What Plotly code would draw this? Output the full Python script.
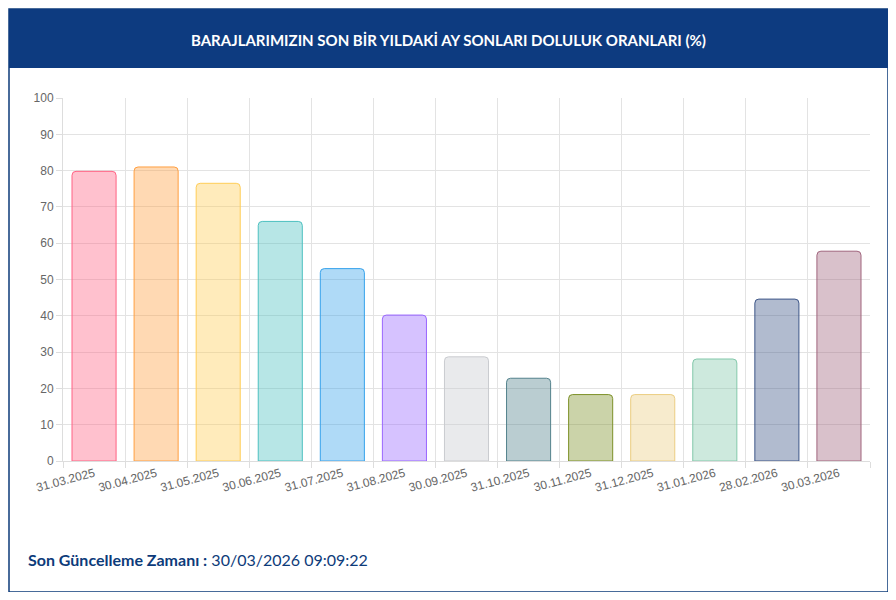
import plotly.graph_objects as go

dates = ["31.03.2025","30.04.2025","31.05.2025","30.06.2025","31.07.2025","31.08.2025","30.09.2025",
         "31.10.2025","30.11.2025","31.12.2025","31.01.2026","28.02.2026","30.03.2026"]
values = [79.8, 81.0, 76.5, 66.0, 53.0, 40.2, 28.7, 22.8, 18.3, 18.3, 28.1, 44.6, 57.8]
rgb = [(255,99,132),(255,159,64),(255,205,86),(75,192,192),(54,162,235),(153,102,255),(201,203,207),
       (83,130,140),(125,145,40),(235,205,130),(130,200,170),(60,85,135),(160,100,125)]

fill = [f"rgba({r},{g},{b},0.4)" for r,g,b in rgb]
line = [f"rgb({r},{g},{b})" for r,g,b in rgb]

fig = go.Figure(go.Bar(x=dates, y=values, width=0.71,
                       marker=dict(color=fill, line=dict(color=line, width=1), cornerradius=4)))

# page body has an 8px margin; figure is sized to fit, coordinates given in window pixels
OFF = 8
W, H = 880, 584
def px(x): return (x - OFF) / W
def py(y): return 1 - (y - OFF) / H

fig.update_layout(
    width=W, height=H, margin=dict(l=0, r=0, t=0, b=0, autoexpand=False),
    paper_bgcolor="white", plot_bgcolor="white", showlegend=False,
    font=dict(family="Liberation Sans, Arial", color="#666", size=12),
    xaxis=dict(domain=[px(63), px(870)], type="category", tickson="boundaries", automargin=False,
               showgrid=True, gridcolor="#e3e3e3", ticks="outside", ticklen=6, tickcolor="#ddd",
               tickangle=-15, showline=True, linecolor="#ddd", tickfont=dict(size=12, color="#666")),
    yaxis=dict(domain=[py(461), py(98)], range=[0, 100], dtick=10, showgrid=True, automargin=False,
               gridcolor="#e3e3e3", ticks="outside", ticklen=6, tickcolor="#ddd",
               showline=True, linecolor="#ddd", zeroline=False, tickfont=dict(size=12, color="#666")),
    shapes=[
        dict(type="rect", xref="paper", yref="paper", x0=px(9), x1=px(888), y0=py(592), y1=py(9),
             line=dict(color="#0d3b7a", width=1.5), fillcolor="rgba(0,0,0,0)", layer="below"),
        dict(type="rect", xref="paper", yref="paper", x0=px(9), x1=px(888), y0=py(68), y1=py(9),
             line=dict(width=0), fillcolor="#0d3b80", layer="below"),
    ],
    annotations=[
        dict(text="<b>BARAJLARIMIZIN SON BİR YILDAKİ AY SONLARI DOLULUK ORANLARI (%)</b>",
             xref="paper", yref="paper", x=px(449), y=py(29), showarrow=False,
             font=dict(family="Lato, sans-serif", size=15, color="white")),
        dict(text="<b>Son Güncelleme Zamanı :</b> 30/03/2026 09:09:22",
             xref="paper", yref="paper", x=px(26), y=py(571), xanchor="left", showarrow=False,
             font=dict(family="Lato, sans-serif", size=16, color="#0d3b7a")),
    ],
)
fig.write_html("out.html")
